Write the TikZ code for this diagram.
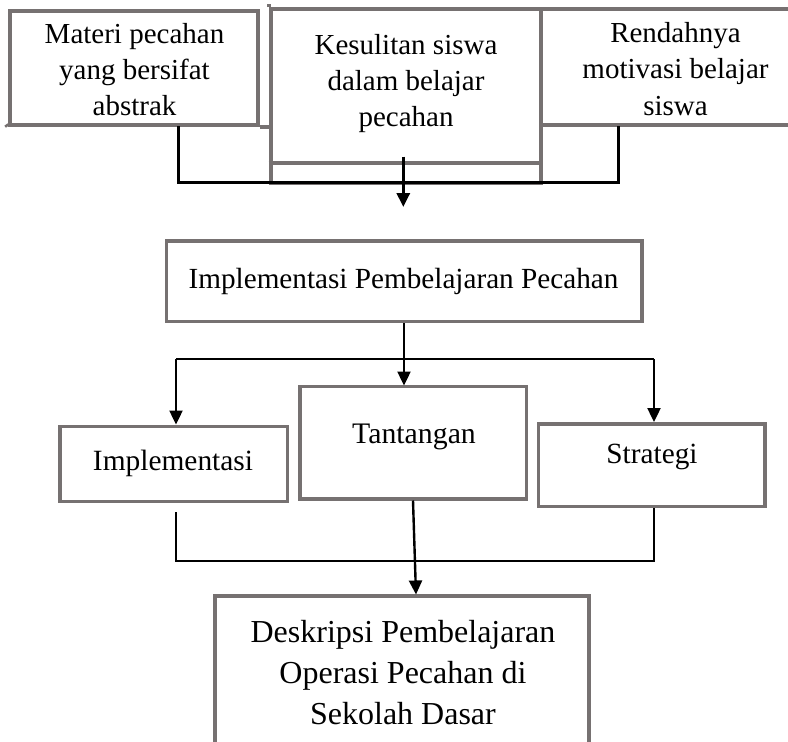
\documentclass[tikz,border=0pt]{standalone}
\usepackage{fontspec}
\setmainfont{Liberation Serif}
\usetikzlibrary{arrows.meta}
\definecolor{boxgray}{RGB}{118,113,113}
\begin{document}
\begin{tikzpicture}[x=1pt,y=-1pt,
  box/.style={draw=boxgray, line width=4pt, inner sep=0pt},
  lowbox/.style={draw=boxgray, line width=3.6pt, inner sep=0pt},
  conn/.style={draw=black, line width=3pt},
  thinconn/.style={draw=black, line width=2.4pt},
  arr/.style={-{Triangle[length=14pt,width=13pt]}},
  lbl/.style={anchor=base, align=center, inner sep=0pt}]
\useasboundingbox (0,0) rectangle (788,742);
\clip (0,0) rectangle (788,742);
\fill[white] (0,0) rectangle (788,742);
% top boxes
\node[box, minimum width=248pt, minimum height=114pt] (mat) at (133.5,67.5) {};
\node[box, minimum width=270pt, minimum height=173.5pt] (kes) at (405.5,95.75) {};
\node[box, minimum width=269.5pt, minimum height=116pt] (ren) at (675.25,67) {};
\draw[boxgray, line width=4pt] (kes.west |- 0,163) -- (kes.east |- 0,163);
\draw[boxgray, line width=4pt] (6,124.5) -- (mat.south west);
\draw[boxgray, line width=4pt] (mat.south east) -- (kes.west |- mat.south);
\draw[boxgray, line width=4pt] (kes.north west) -- ([yshift=3pt]kes.north west);
\node[lbl, font=\fontsize{29}{36}\selectfont] (matT) at (134.5,115) {Materi pecahan\\yang bersifat\\abstrak};
\node[lbl, font=\fontsize{29}{36}\selectfont] (kesT) at (406,126) {Kesulitan siswa\\dalam belajar\\pecahan};
\node[lbl, font=\fontsize{29}{36.5}\selectfont] (renT) at (675.5,115) {Rendahnya\\motivasi belajar\\siswa};
% middle box
\node[lowbox, minimum width=475.5pt, minimum height=80.5pt] (ipp) at (404.25,281.25) {};
\node[lbl, font=\fontsize{29.2}{36}\selectfont] (ippT) at (403.5,288) {Implementasi Pembelajaran Pecahan};
% lower boxes
\node[lowbox, minimum width=227.5pt, minimum height=75pt] (imp) at (173.75,464) {};
\node[lowbox, minimum width=226.5pt, minimum height=112.5pt] (tan) at (413.25,442.75) {};
\node[lowbox, minimum width=226.5pt, minimum height=82.5pt] (str) at (651.75,465.25) {};
\node[lbl, font=\fontsize{29.4}{36}\selectfont] (impT) at (173,470) {Implementasi};
\node[lbl, font=\fontsize{29.8}{36}\selectfont] (tanT) at (414,443) {Tantangan};
\node[lbl, font=\fontsize{29.3}{36}\selectfont] (strT) at (652,463) {Strategi};
% bottom box
\node[lowbox, minimum width=374pt, minimum height=184pt] (des) at (402,688) {};
\node[lbl, font=\fontsize{32}{41}\selectfont] (desT) at (403,724) {Deskripsi Pembelajaran\\Operasi Pecahan di\\Sekolah Dasar};
% connector coordinates
\coordinate (a1) at (178,126);
\coordinate (a2) at (618.5,126);
\coordinate (aj) at (618.5,182.5);
\coordinate (a3) at (403.3,156.7);
\coordinate (a4) at (403.3,207);
\coordinate (b1) at (404,323);
\coordinate (b2) at (404,385.5);
\coordinate (bl) at (176,359);
\coordinate (br) at (654,359);
\coordinate (bl2) at (176,424.5);
\coordinate (br2) at (654,422);
\coordinate (c1) at (176,512);
\coordinate (c2) at (654,508);
\coordinate (cj) at (654,561);
\coordinate (d1) at (413,500.5);
\coordinate (d2) at (416,594.5);
% top connectors
\draw[conn] (a1) |- (aj) -- (a2);
\draw[conn, arr] (a3) -- (a4);
% middle connectors
\draw[thinconn, arr] (b1) -- (b2);
\draw[thinconn] (bl) -- (br);
\draw[thinconn, arr] (bl) -- (bl2);
\draw[thinconn, arr] (br) -- (br2);
% bottom connectors
\draw[thinconn] (c1) |- (cj) -- (c2);
\draw[thinconn, arr] (d1) -- (d2);
\end{tikzpicture}
\end{document}
